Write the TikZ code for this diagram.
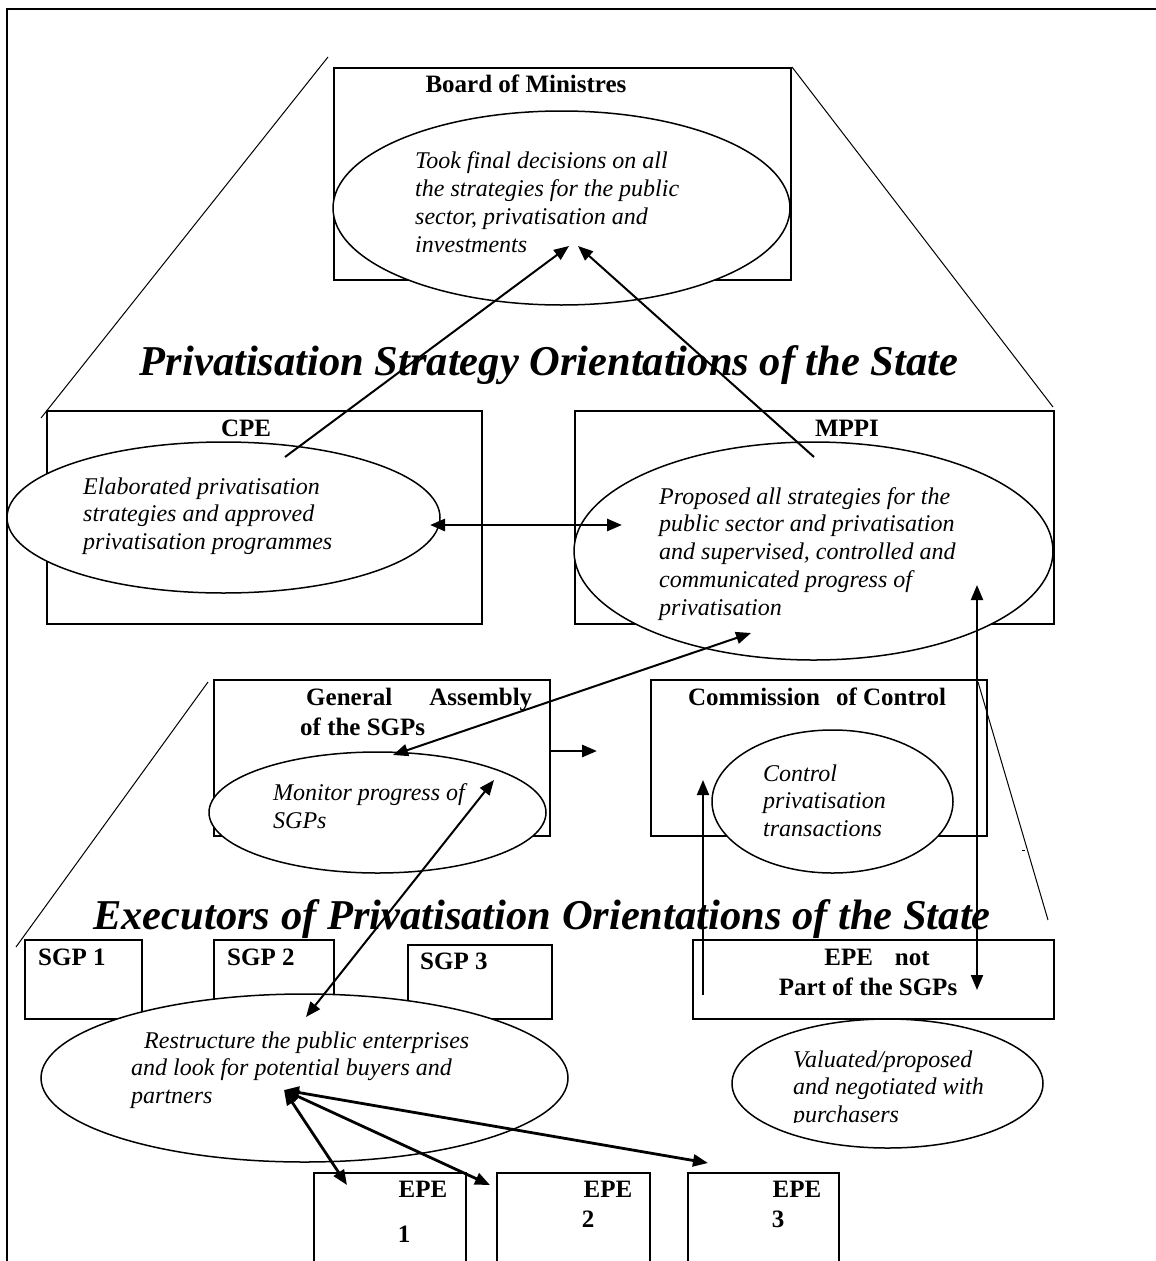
\documentclass[tikz,border=0pt]{standalone}
\usepackage{fontspec}
\setmainfont{Liberation Serif}
\usetikzlibrary{shapes.geometric,arrows.meta}
\begin{document}
\begin{tikzpicture}[x=1pt,y=-1pt,
  boxnode/.style={draw,line width=2pt,inner sep=0pt,anchor=north west},
  ell/.style={ellipse,draw,line width=1.5pt,fill=white,inner sep=0pt},
  % multi-line texts: the base anchor sits on the baseline of the last line
  itxt/.style={font=\fontsize{24}{27.7}\selectfont\itshape,align=left,inner sep=0pt,anchor=base west},
  btxt/.style={font=\fontsize{25}{30}\selectfont\bfseries,inner sep=0pt,anchor=base},
  ttl/.style={font=\fontsize{42.5}{48}\selectfont\bfseries\itshape,inner sep=0pt,anchor=base},
  guide/.style={line width=1pt},
  tip/.tip={Triangle[length=15pt,width=12pt]},
  arr/.style={line width=2pt,-tip},
  darr/.style={line width=2pt,tip-tip},
  thickdarr/.style={line width=2.8pt,tip-tip}]

\useasboundingbox (0,0) rectangle (1156,1261);

% page frame (open on the right and at the bottom)
\draw[line width=2pt] (7,1261) -- (7,9) -- (1156,9);

% boxes
\node[boxnode,minimum width=457pt,minimum height=212pt] (board) at (333,67) {};
\node[boxnode,minimum width=435pt,minimum height=213pt] (cpe) at (46,410) {};
\node[boxnode,minimum width=479pt,minimum height=213pt] (mppi) at (574,410) {};
\node[boxnode,minimum width=336pt,minimum height=156pt] (ga) at (213,679) {};
\node[boxnode,minimum width=336pt,minimum height=156pt] (coc) at (650,679) {};
\node[boxnode,minimum width=117pt,minimum height=79pt] (sgp1) at (24,939) {};
\node[boxnode,minimum width=120pt,minimum height=79pt] (sgp2) at (213,939) {};
\node[boxnode,minimum width=144pt,minimum height=74pt] (sgp3) at (407,944) {};
\node[boxnode,minimum width=361pt,minimum height=79pt] (epenot) at (692,939) {};
\node[boxnode,minimum width=152pt,minimum height=110pt] (epe1) at (313,1172) {};
\node[boxnode,minimum width=153pt,minimum height=110pt] (epe2) at (496,1172) {};
\node[boxnode,minimum width=151pt,minimum height=110pt] (epe3) at (687,1172) {};

% guide lines of the two levels
\coordinate (gl1a) at (328,57);  \coordinate (gl1b) at (41,418);
\coordinate (gr1b) at (1053,407);
\coordinate (gl2a) at (208,682); \coordinate (gl2b) at (16,947);
\coordinate (gr2a) at (978,682); \coordinate (gr2b) at (1048,920);
\draw[guide] (gl1a) -- (gl1b);
\draw[guide] (board.north east) -- (gr1b);
\draw[guide] (gl2a) -- (gl2b);
\draw[guide] (gr2a) -- (gr2b);
\draw[guide] (1022,850) -- (1025,850);

% box titles
\node[btxt] (board-lbl) at (526,92) {Board of Ministres};
\node[btxt] (cpe-lbl) at (246,436) {CPE};
\node[btxt] (mppi-lbl) at (847,436) {MPPI};
\node[btxt,anchor=base west,align=left] (ga-lbl) at (300,735)
  {\hbox to 232pt{\hskip6pt General\hfill Assembly}\\of the SGPs};
\node[btxt] (coc-lbl) at (817,705) {Commission\hspace{16pt}of Control};
\node[btxt,anchor=base west] (sgp1-lbl) at (38,965) {SGP 1};
\node[btxt,anchor=base west] (sgp2-lbl) at (227,965) {SGP 2};
\node[btxt,anchor=base west] (sgp3-lbl) at (420,969) {SGP 3};
\node[btxt] (epenot-lbl1) at (877,965) {EPE\hspace{22pt}not};
\node[btxt] (epenot-lbl2) at (868,995) {Part of the SGPs};
\node[btxt] (epe1-lbl) at (423,1197) {EPE};
\node[btxt] (epe1-num) at (404,1242) {1};
\node[btxt] (epe2-lbl) at (608,1197) {EPE};
\node[btxt] (epe2-num) at (588,1227) {2};
\node[btxt] (epe3-lbl) at (797,1197) {EPE};
\node[btxt] (epe3-num) at (778,1227) {3};

% ellipses with their tasks
\node[ell,minimum width=457pt,minimum height=194pt] (board-e) at (561.5,208) {};
\node[ell,minimum width=433pt,minimum height=151pt] (cpe-e) at (223.5,517.5) {};
\node[ell,minimum width=479pt,minimum height=218pt] (mppi-e) at (813.5,551) {};
\node[ell,minimum width=337pt,minimum height=121pt] (ga-e) at (377.5,812.5) {};
\node[ell,minimum width=241pt,minimum height=143pt] (coc-e) at (832.5,801.5) {};
\node[ell,minimum width=527pt,minimum height=168pt] (sgp-e) at (304.5,1078) {};
\node[ell,minimum width=311pt,minimum height=129pt] (epenot-e) at (887.5,1083.5) {};

\node[itxt] (board-t) at (415,252) {Took final decisions on all\\the strategies for the public\\sector, privatisation and\\investments};
\node[itxt] (cpe-t) at (83,549.5) {Elaborated privatisation\\strategies and approved\\privatisation programmes};
\node[itxt] (mppi-t) at (659,615) {Proposed all strategies for the\\public sector and privatisation\\and supervised, controlled and\\communicated progress of\\privatisation};
\node[itxt] (ga-t) at (273,828) {Monitor progress of\\SGPs};
\node[itxt] (coc-t) at (763,836.5) {Control\\privatisation\\transactions};
\node[itxt] (sgp-t) at (131,1103.5) {\hspace{13pt}Restructure the public enterprises\\and look for potential buyers and\\partners};
\begin{scope}
  \clip (700,1030) rectangle (1060,1122);
  \node[itxt] (epenot-t) at (793,1122.5) {Valuated/proposed\\and negotiated with\\purchasers};
\end{scope}

% level headings
\node[ttl] (lvl1) at (549,375) {Privatisation Strategy Orientations of the State};
\node[ttl] (lvl2) at (542,929) {Executors of Privatisation Orientations of the State};

% arrow end points
\coordinate (cpe-up) at (285,457);
\coordinate (board-in1) at (569,246);
\coordinate (mppi-up) at (814,457);
\coordinate (board-in2) at (578,246);
\coordinate (cpe-r) at (430,525);
\coordinate (mppi-l) at (622,525);
\coordinate (mppi-dl) at (751,633);
\coordinate (ga-in) at (393,755);
\coordinate (mppi-dr) at (977,585);
\coordinate (epenot-in) at (977,990);
\coordinate (epenot-out) at (703,995);
\coordinate (coc-in) at (703,780);
\coordinate (ga-r) at (549,751);
\coordinate (coc-l) at (597,751);
\coordinate (ga-dn) at (494,780);
\coordinate (sgp-in) at (306,1017);
\coordinate (sgp-hub) at (284,1090);
\coordinate (epe1-in) at (347,1185);
\coordinate (epe2-in) at (490,1185);
\coordinate (epe3-in) at (708,1163);

% connectors
\draw[arr] (cpe-up) -- (board-in1);
\draw[arr] (mppi-up) -- (board-in2);
\draw[thickdarr] (cpe-r) -- (mppi-l);
\draw[darr] (mppi-dl) -- (ga-in);
\draw[darr] (mppi-dr) -- (epenot-in);
\draw[arr] (epenot-out) -- (coc-in);
\draw[line width=2.8pt,-tip] (ga-r) -- (coc-l);
\draw[darr] (ga-dn) -- (sgp-in);
\draw[thickdarr] (sgp-hub) -- (epe1-in);
\draw[thickdarr] (sgp-hub) -- (epe2-in);
\draw[thickdarr] (sgp-hub) -- (epe3-in);
\end{tikzpicture}
\end{document}
